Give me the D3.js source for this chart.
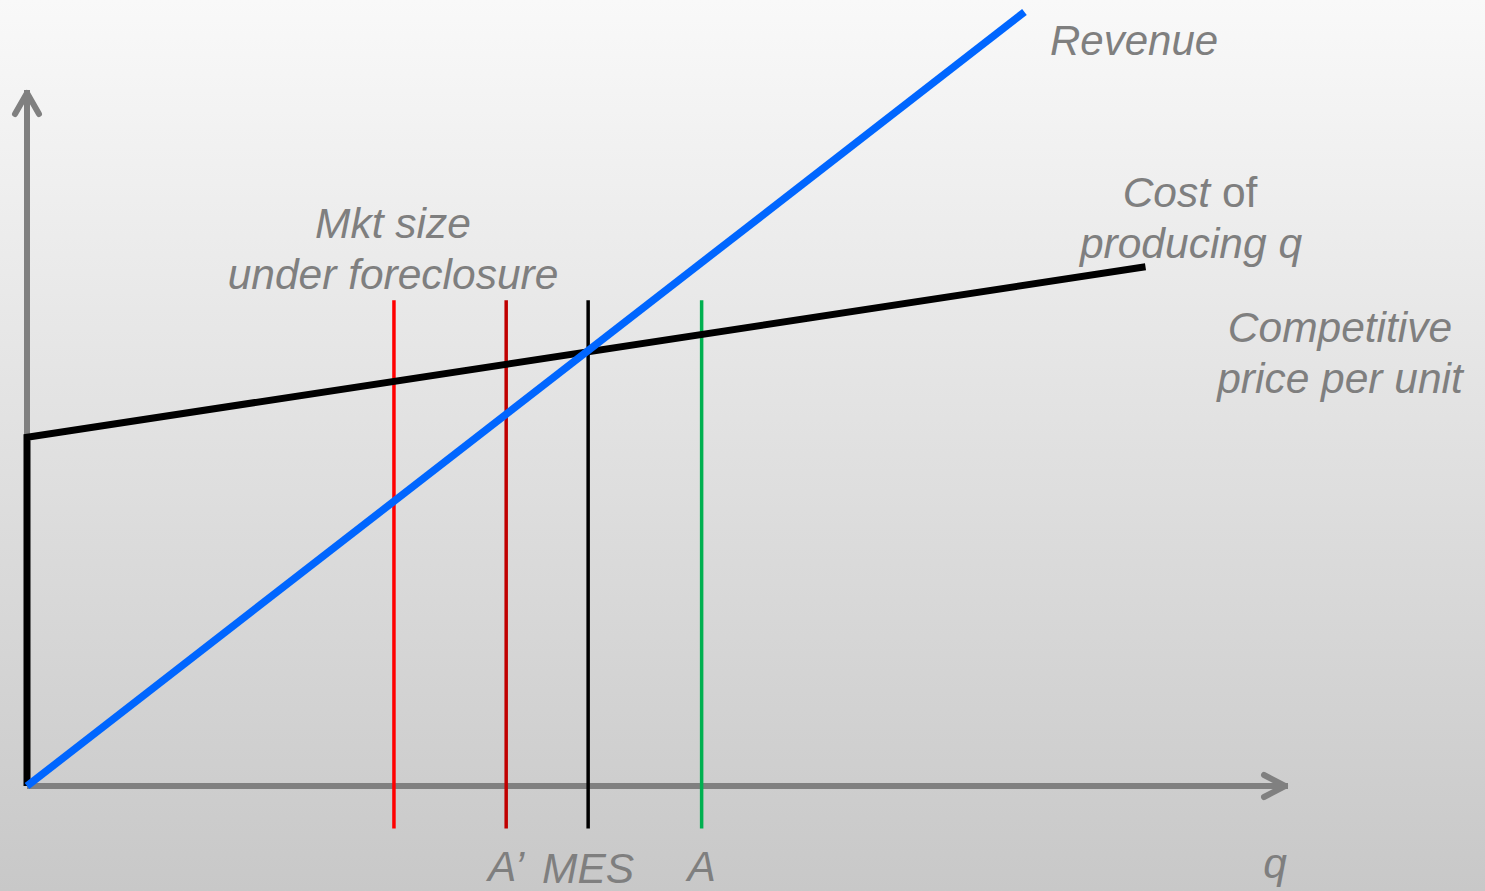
<!DOCTYPE html>
<html lang="en">
<head>
    <meta charset="UTF-8">
    <script src="https://cdn.jsdelivr.net/npm/d3@7"></script>
    <title>Foreclosure and MES</title>
    <style>
        * { margin: 0; padding: 0; box-sizing: border-box; }
        body { width: 1485px; height: 891px; overflow: hidden; }
        svg { display: block; font-family: "Liberation Sans", Arial, sans-serif; }
    </style>
</head>
<body>
    <svg width="1485" height="891"></svg>
    <script>
        // quantity q on x (0..100), money on y (0..100)
        let revenue = [[0, 0], [79.1, 111.2]]
        let cost = [[0, 0], [0, 50.1], [88.7, 74.6]]
        let markers = [
            { name: 'foreclosure', q: 29.1, color: '#ff0000' },
            { name: "A\u2019", q: 38.0, color: '#c00000' },
            { name: 'MES', q: 44.5, color: '#000000' },
            { name: 'A', q: 53.5, color: '#00b050' }
        ]
        let markerSpan = [-6.1, 69.8]
        let bottomLabels = [
            { text: "A\u2019", q: 38.0, dy: 0 },
            { text: 'MES', q: 44.5, dy: 2 },
            { text: 'A', q: 53.5, dy: 0 }
        ]

        let svg = d3.select('svg')

        let defs = svg.append('defs')
        let grad = defs.append('linearGradient')
            .attr('id', 'bg')
            .attr('x1', 0).attr('y1', 0).attr('x2', 0).attr('y2', 1)
        grad.append('stop').attr('offset', '0%').attr('stop-color', '#f9f9f9')
        grad.append('stop').attr('offset', '100%').attr('stop-color', '#c8c8c8')

        svg.append('rect')
            .attr('width', 1485).attr('height', 891)
            .attr('fill', 'url(#bg)')

        let x = d3.scaleLinear().domain([0, 100]).range([27, 1288])
        let y = d3.scaleLinear().domain([0, 100]).range([786, 90])

        let line = d3.line().x(d => x(d[0])).y(d => y(d[1]))

        // axes with arrow heads
        let gray = '#808080'
        svg.append('path')
            .attr('d', line([[0, 0], [0, 100]]))
            .attr('stroke', gray).attr('stroke-width', 6).attr('fill', 'none')
        svg.append('path')
            .attr('d', `M${x(0) - 12},${y(100) + 24} L${x(0)},${y(100) + 3} L${x(0) + 12},${y(100) + 24}`)
            .attr('stroke', gray).attr('stroke-width', 6).attr('fill', 'none')
            .attr('stroke-linecap', 'round').attr('stroke-linejoin', 'round')
        svg.append('path')
            .attr('d', line([[0, 0], [100, 0]]))
            .attr('stroke', gray).attr('stroke-width', 6).attr('fill', 'none')
        svg.append('path')
            .attr('d', `M${x(100) - 24},${y(0) - 11} L${x(100) - 3},${y(0)} L${x(100) - 24},${y(0) + 11}`)
            .attr('stroke', gray).attr('stroke-width', 6).attr('fill', 'none')
            .attr('stroke-linecap', 'round').attr('stroke-linejoin', 'round')

        // vertical marker lines
        svg.selectAll('line.marker')
            .data(markers)
            .join('line')
            .attr('class', 'marker')
            .attr('x1', d => x(d.q)).attr('x2', d => x(d.q))
            .attr('y1', y(markerSpan[1])).attr('y2', y(markerSpan[0]))
            .attr('stroke', d => d.color)
            .attr('stroke-width', 3.5)

        // cost curve
        svg.append('path')
            .attr('d', line(cost))
            .attr('stroke', '#000').attr('stroke-width', 7).attr('fill', 'none')

        // revenue
        svg.append('path')
            .attr('d', line(revenue))
            .attr('stroke', '#0066ff').attr('stroke-width', 7.5).attr('fill', 'none')

        let txt = '#7f7f7f'
        let fs = 42.5
        function label(lines, cx, baseline) {
            let t = svg.append('text')
                .attr('text-anchor', 'middle')
                .attr('font-size', fs)
                .attr('font-style', 'italic')
                .attr('fill', txt)
            lines.forEach((l, i) => {
                t.append('tspan')
                    .attr('x', cx)
                    .attr('y', baseline + i * 51)
                    .text(l)
            })
            return t
        }

        svg.append('text')
            .attr('x', 1050).attr('y', 55)
            .attr('font-size', 42).attr('font-style', 'italic')
            .attr('fill', txt)
            .text('Revenue')

        let costLabel = svg.append('text')
            .attr('x', 1190).attr('y', 207)
            .attr('text-anchor', 'middle')
            .attr('font-size', fs).attr('fill', txt)
        costLabel.append('tspan').attr('font-style', 'italic').text('Cost ')
        costLabel.append('tspan').text('of')
        svg.append('text')
            .attr('x', 1191).attr('y', 258)
            .attr('text-anchor', 'middle')
            .attr('font-size', fs).attr('font-style', 'italic')
            .attr('fill', txt)
            .text('producing q')

        label(['Competitive', 'price per unit'], 1340, 342)
        label(['Mkt size', 'under foreclosure'], 393, 238)

        svg.selectAll('text.bottom')
            .data(bottomLabels)
            .join('text')
            .attr('class', 'bottom')
            .attr('x', d => x(d.q))
            .attr('y', d => 881 + d.dy)
            .attr('text-anchor', 'middle')
            .attr('font-size', fs).attr('font-style', 'italic')
            .attr('fill', txt)
            .text(d => d.text)

        svg.append('text')
            .attr('x', 1275).attr('y', 878)
            .attr('text-anchor', 'middle')
            .attr('font-size', fs).attr('font-style', 'italic')
            .attr('fill', txt)
            .text('q')
    </script>
</body>
</html>
